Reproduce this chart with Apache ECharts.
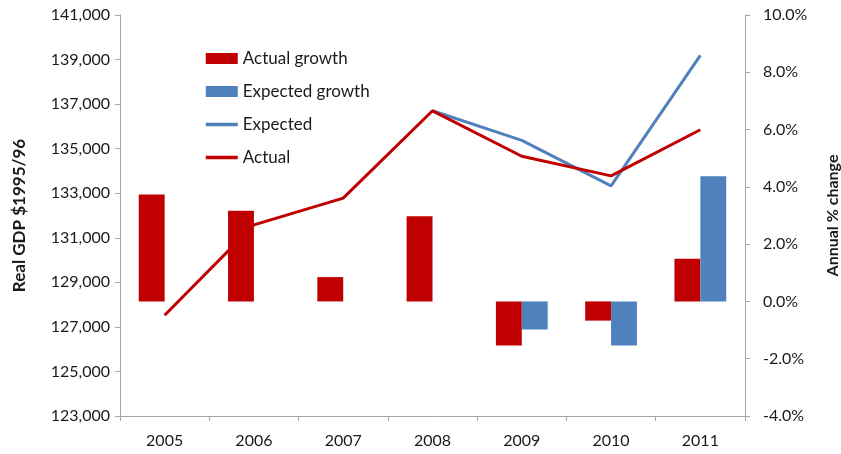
<!DOCTYPE html>
<html>
<head>
<meta charset="utf-8">
<script src="https://cdn.jsdelivr.net/npm/echarts@6/dist/echarts.min.js"></script>
<style>
  html, body { margin: 0; padding: 0; background: #fff; }
  #chart { width: 841px; height: 454px; }
</style>
</head>
<body>
<div id="chart"></div>
<script>
// Real GDP levels and annual growth, 2005–2011
const years = ['2005', '2006', '2007', '2008', '2009', '2010', '2011'];
const actualGrowth = [3.73, 3.17, 0.85, 2.97, -1.54, -0.67, 1.49];
const expectedGrowth = [null, null, null, null, -0.98, -1.54, 4.37];
const actualGdp = [127520, 131580, 132780, 136700, 134660, 133780, 135850];
const expectedGdp = [null, null, null, 136700, 135370, 133330, 139190];

const RED = '#C00000';
const BLUE = '#4F81BD';
const AXIS = '#A6A6A6';
const FONT = 'Lato, "Open Sans", sans-serif';

const chart = echarts.init(document.getElementById('chart'));
chart.setOption({
  animation: false,
  textStyle: { fontFamily: FONT },
  grid: { left: 120, right: 96, top: 15, bottom: 38, outerBoundsMode: 'none', containLabel: false },
  legend: {
    orient: 'vertical',
    left: 204,
    top: 50,
    padding: 0,
    itemWidth: 32,
    itemHeight: 11,
    itemGap: 16,
    lineStyle: { width: 3.5 },
    textStyle: { fontSize: 17, color: '#1a1a1a', fontFamily: FONT },
    data: [
      { name: 'Actual growth', icon: 'rect' },
      { name: 'Expected growth', icon: 'rect' },
      { name: 'Expected', itemStyle: { opacity: 0 } },
      { name: 'Actual', itemStyle: { opacity: 0 } }
    ]
  },
  xAxis: {
    type: 'category',
    data: years,
    boundaryGap: true,
    axisLine: { onZero: false, lineStyle: { color: AXIS, width: 1 } },
    axisTick: { show: true, length: 5, lineStyle: { color: AXIS } },
    axisLabel: { color: '#1a1a1a', fontSize: 16, margin: 17 }
  },
  yAxis: [
    {
      type: 'value',
      min: 123000,
      max: 141000,
      interval: 2000,
      position: 'left',
      name: 'Real GDP $1995/96',
      nameLocation: 'middle',
      nameRotate: 90,
      nameGap: 92,
      nameTextStyle: { fontSize: 17, fontWeight: 'bold', color: '#1a1a1a' },
      splitLine: { show: false },
      axisLine: { show: true, lineStyle: { color: AXIS } },
      axisTick: { show: true, length: 5, lineStyle: { color: AXIS } },
      axisLabel: {
        color: '#1a1a1a', fontSize: 16, margin: 10,
        formatter: v => v.toLocaleString('en-US')
      }
    },
    {
      type: 'value',
      min: -4,
      max: 10,
      interval: 2,
      position: 'right',
      name: 'Annual % change',
      nameLocation: 'middle',
      nameRotate: 90,
      nameGap: 80,
      nameTextStyle: { fontSize: 16, fontWeight: 'bold', color: '#1a1a1a' },
      splitLine: { show: false },
      axisLine: { show: true, lineStyle: { color: AXIS } },
      axisTick: { show: true, length: 5, lineStyle: { color: AXIS } },
      axisLabel: {
        color: '#1a1a1a', fontSize: 16, margin: 18,
        formatter: v => v.toFixed(1) + '%'
      }
    }
  ],
  series: [
    {
      name: 'Actual growth',
      type: 'bar',
      yAxisIndex: 1,
      data: actualGrowth,
      barGap: '0%',
      barCategoryGap: '42%',
      itemStyle: { color: RED }
    },
    {
      name: 'Expected growth',
      type: 'bar',
      yAxisIndex: 1,
      data: expectedGrowth,
      itemStyle: { color: BLUE }
    },
    {
      name: 'Expected',
      type: 'line',
      yAxisIndex: 0,
      data: expectedGdp,
      symbol: 'none',
      lineStyle: { color: BLUE, width: 3 },
      itemStyle: { color: BLUE },
      z: 3
    },
    {
      name: 'Actual',
      type: 'line',
      yAxisIndex: 0,
      data: actualGdp,
      symbol: 'none',
      lineStyle: { color: RED, width: 3 },
      itemStyle: { color: RED },
      z: 4
    }
  ]
});
</script>
</body>
</html>
